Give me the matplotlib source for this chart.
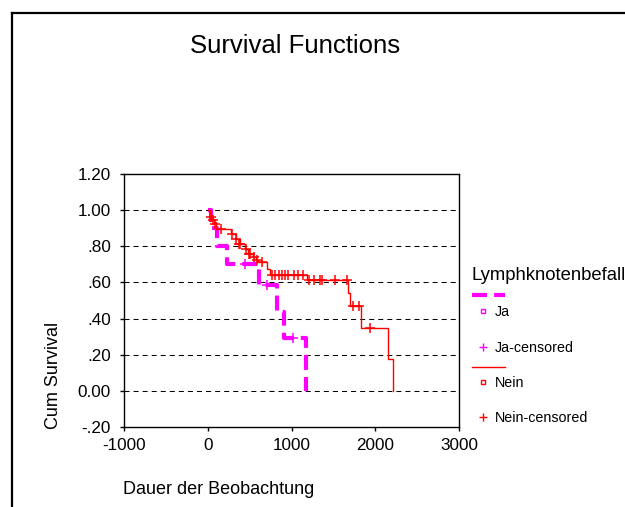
import matplotlib
matplotlib.use("Agg")
import matplotlib.pyplot as plt
from matplotlib.lines import Line2D

plt.rcParams['font.family'] = ['Liberation Sans', 'DejaVu Sans']

# Kaplan-Meier steps, group "Ja"
ja_time = [0, 40, 115, 233, 607, 830, 905, 1168]
ja_surv = [1.0, 0.9, 0.8, 0.7, 0.5833, 0.4375, 0.2917, 0.0]
ja_cens_time = [450, 708, 1020]
ja_cens_surv = [0.7, 0.5833, 0.2917]

# Kaplan-Meier steps, group "Nein"
nein_time = [0, 25, 50, 75, 95, 280, 340, 385, 440, 480, 540, 580, 600,
             710, 745, 1180, 1672, 1700, 1827, 2150, 2215]
nein_surv = [1.0, 0.972, 0.952, 0.935, 0.898, 0.87, 0.843, 0.815, 0.787,
             0.759, 0.74, 0.726, 0.713, 0.676, 0.639, 0.611, 0.54, 0.47,
             0.35, 0.176, 0.0]
nein_cens_time = [35, 60, 85, 154, 293, 332, 372, 391, 451, 490, 510, 550,
                  589, 649, 767, 806, 846, 886, 925, 964, 1024, 1083, 1142,
                  1214, 1273, 1340, 1360, 1518, 1657, 1735, 1803, 1933]
nein_cens_surv = [0.962, 0.945, 0.925, 0.898, 0.87, 0.843, 0.815, 0.815,
                  0.787, 0.759, 0.759, 0.74, 0.726, 0.713, 0.639, 0.639,
                  0.639, 0.639, 0.639, 0.639, 0.639, 0.639, 0.639, 0.611,
                  0.611, 0.611, 0.611, 0.611, 0.611, 0.47, 0.47, 0.35]

y_ticks = [-0.2, 0.0, 0.2, 0.4, 0.6, 0.8, 1.0, 1.2]
y_labels = ['-.20', '0.00', '.20', '.40', '.60', '.80', '1.00', '1.20']
x_ticks = [-1000, 0, 1000, 2000, 3000]
x_labels = ['-1000', '0', '1000', '2000', '3000']

W, H = 625, 507
fig = plt.figure(figsize=(W / 100, H / 100), dpi=100)
ax = fig.add_axes([124 / W, 1 - 427 / H, (459 - 124) / W, (427 - 174) / H])

mag = '#ff00ff'
red = '#ff0000'

for y in [0.0, 0.2, 0.4, 0.6, 0.8, 1.0]:
    ax.axhline(y, color='black', lw=0.75, dashes=(4.8, 3.9), zorder=1)

ax.step(ja_time, ja_surv, where='post', color=mag, lw=3, dashes=(3.6, 1.7), zorder=2)
ax.plot(ja_cens_time, ja_cens_surv, ls='none', marker='+', color=mag, ms=7, mew=1.1, zorder=2)
ax.step(nein_time, nein_surv, where='post', color=red, lw=1.0, zorder=3)
ax.plot(nein_cens_time, nein_cens_surv, ls='none', marker='+', color=red, ms=7, mew=1.1, zorder=3)

ax.set_xlim(-1000, 3000)
ax.set_ylim(-0.2, 1.2)
ax.set_xticks(x_ticks)
ax.set_xticklabels(x_labels)
ax.set_yticks(y_ticks)
ax.set_yticklabels(y_labels)
ax.tick_params(direction='out', length=3, width=1, labelsize=12.3, pad=5)
ax.tick_params(axis='y', pad=6.5)
for s in ax.spines.values():
    s.set_linewidth(1.0)

fig.text(295 / W, 1 - 46 / H, 'Survival Functions', ha='center', va='center', fontsize=18.5)
fig.text(53 / W, 1 - 375 / H, 'Cum Survival', rotation=90, ha='center', va='center', fontsize=13)
fig.text(123 / W, 1 - 490 / H, 'Dauer der Beobachtung', ha='left', va='center', fontsize=13)

# legend, drawn by hand to follow the original spacing
fig.text(471 / W, 1 - 275 / H, 'Lymphknotenbefall', ha='left', va='center', fontsize=13.3)
fig.add_artist(Line2D([472 / W, 505 / W], [1 - 295 / H] * 2, color=mag, lw=3,
                      dashes=(3.6, 1.7), transform=fig.transFigure))
fig.add_artist(Line2D([482.5 / W], [1 - 311 / H], ls='none', marker='s', ms=3.5, mfc='white',
                      mec=mag, mew=1, transform=fig.transFigure))
fig.text(495 / W, 1 - 312 / H, 'Ja', ha='left', va='center', fontsize=10.3)
fig.add_artist(Line2D([482.5 / W], [1 - 347 / H], ls='none', marker='+', ms=6, color=mag,
                      mew=1, transform=fig.transFigure))
fig.text(495 / W, 1 - 348 / H, 'Ja-censored', ha='left', va='center', fontsize=10.3)
fig.add_artist(Line2D([472 / W, 505 / W], [1 - 367 / H] * 2, color=red, lw=1.0,
                      transform=fig.transFigure))
fig.add_artist(Line2D([482.5 / W], [1 - 382 / H], ls='none', marker='s', ms=3.5, mfc='white',
                      mec=red, mew=1, transform=fig.transFigure))
fig.text(495 / W, 1 - 383 / H, 'Nein', ha='left', va='center', fontsize=10.3)
fig.add_artist(Line2D([482.5 / W], [1 - 417 / H], ls='none', marker='+', ms=6, color=red,
                      mew=1, transform=fig.transFigure))
fig.text(495 / W, 1 - 418 / H, 'Nein-censored', ha='left', va='center', fontsize=10.3)

# outer frame (runs off the right and bottom edges)
fig.add_artist(Line2D([12 / W, 1.0], [1 - 13 / H] * 2, color='black', lw=1.6, transform=fig.transFigure))
fig.add_artist(Line2D([12 / W, 12 / W], [1 - 13 / H, 0.0], color='black', lw=1.6, transform=fig.transFigure))

fig.savefig('out.png', dpi=100)
